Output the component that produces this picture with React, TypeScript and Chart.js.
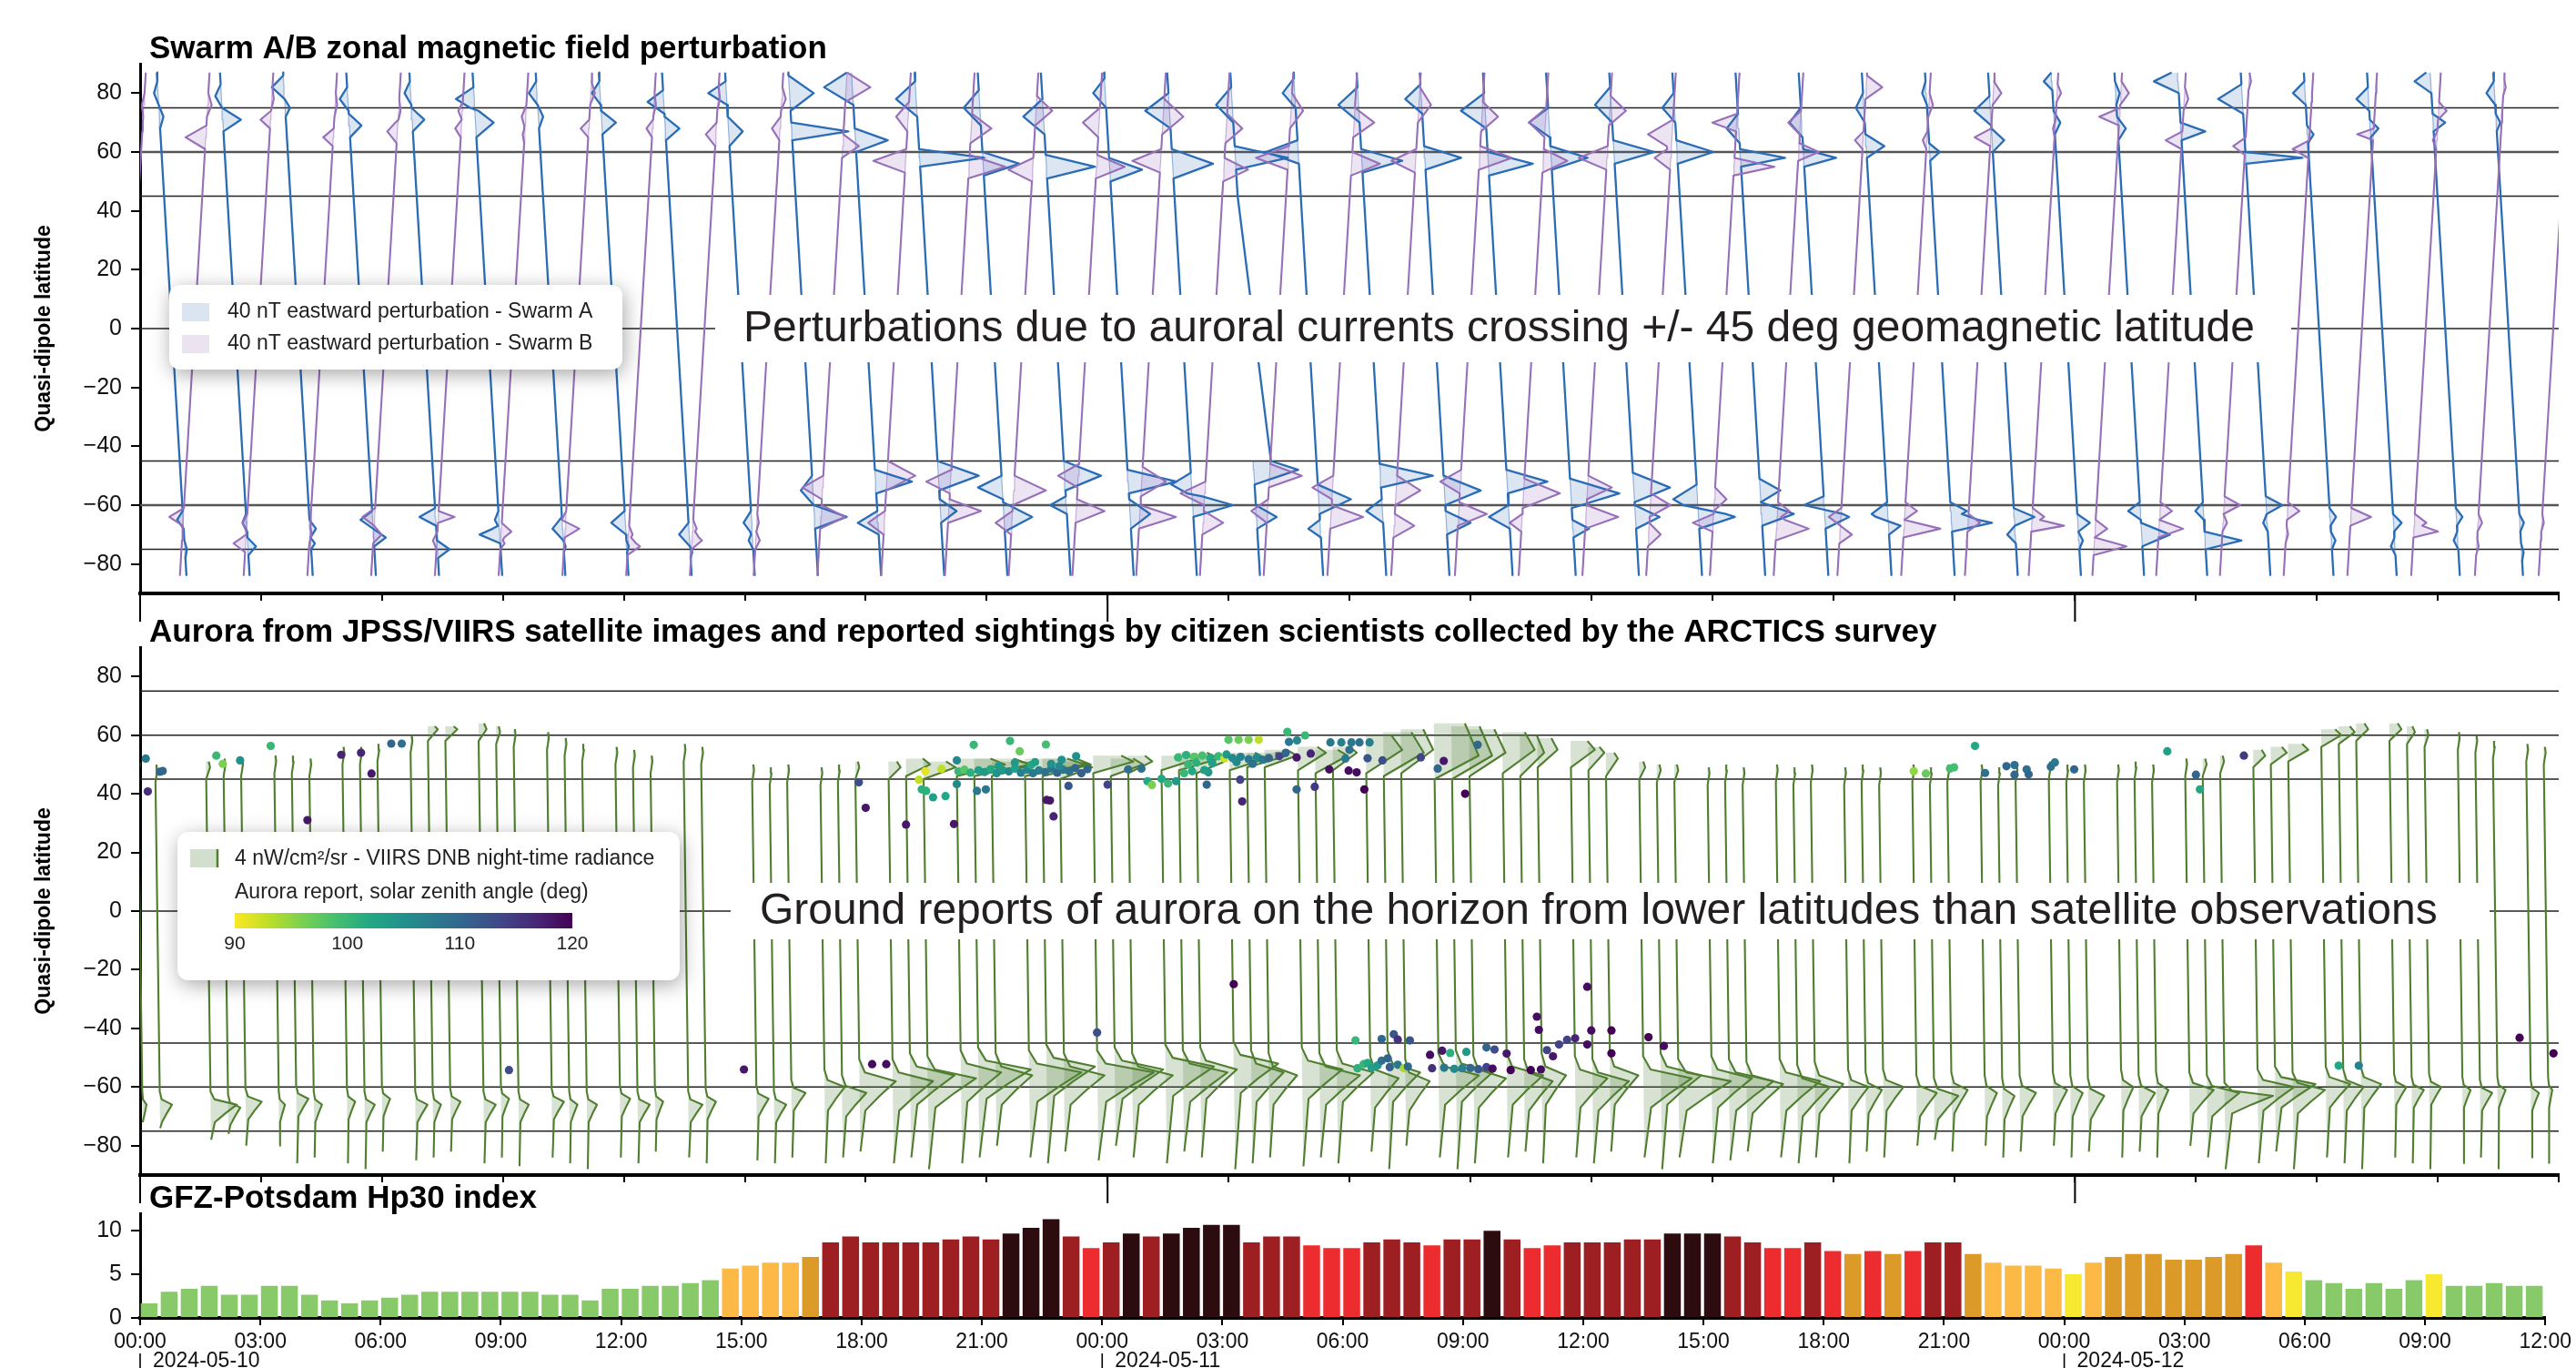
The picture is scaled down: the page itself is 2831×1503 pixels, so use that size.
import React, { useEffect, useRef } from 'react';
import { Chart, registerables } from 'chart.js';
Chart.register(...registerables);

const W = 2831;
const H = 1503;
const FONT = '"Liberation Sans", Arial, Helvetica, sans-serif';

// ---------------- axes / labels ----------------
const hourTicks = [0, 3, 6, 9, 12, 15, 18, 21, 24, 27, 30, 33, 36, 39, 42, 45, 48, 51, 54, 57, 60];
const dayTicks = [0, 24, 48];
const dayLabels = ['2024-05-10', '2024-05-11', '2024-05-12'];
const latTicks = [-80, -60, -40, -20, 0, 20, 40, 60, 80];
const refLats = [75, 60, 45, 0, -45, -60, -75];
const hpTicks = [0, 5, 10];
const szaTicks = [90, 100, 110, 120];

const titleSwarm = 'Swarm A/B zonal magnetic field perturbation';
const titleAurora = 'Aurora from JPSS/VIIRS satellite images and reported sightings by citizen scientists collected by the ARCTICS survey';
const titleHp = 'GFZ-Potsdam Hp30 index';
const yTitle = 'Quasi-dipole latitude';
const noteSwarm = 'Perturbations due to auroral currents crossing +/- 45 deg geomagnetic latitude';
const noteAurora = 'Ground reports of aurora on the horizon from lower latitudes than satellite observations';
const legSwarmA = '40 nT eastward perturbation - Swarm A';
const legSwarmB = '40 nT eastward perturbation - Swarm B';
const legViirs = '4 nW/cm\u00b2/sr - VIIRS DNB night-time radiance';
const legReports = 'Aurora report, solar zenith angle (deg)';

// ---------------- Hp30 (half-hourly, from 2024-05-10 00:00) ----------------
const hp30Day1 = [1.667, 3, 3.333, 3.667, 2.667, 2.667, 3.667, 3.667, 2.667, 2, 1.667, 2, 2.333, 2.667, 3, 3, 3, 3, 3, 3, 2.667, 2.667, 2, 3.333, 3.333, 3.667, 3.667, 4, 4.333, 5.667, 6, 6.333, 6.333, 7, 8.667, 9.333, 8.667, 8.667, 8.667, 8.667, 9, 9.333, 9, 9.667, 10.333, 11.333, 9.333, 8];
const hp30Day2 = [8.667, 9.667, 9.333, 9.667, 10.333, 10.667, 10.667, 8.667, 9.333, 9.333, 8.333, 8, 8, 8.667, 9, 8.667, 8.333, 9, 9, 10, 9, 8, 8.333, 8.667, 8.667, 8.667, 9, 9, 9.667, 9.667, 9.667, 9.333, 8.667, 8, 8, 8.667, 7.667, 7.333, 7.667, 7.333, 7.667, 8.667, 8.667, 7.333, 6.333, 6, 6, 5.667];
const hp30Day3 = [5, 6.333, 7, 7.333, 7.333, 6.667, 6.667, 7, 7.333, 8.333, 6.333, 5.333, 4.333, 4, 3.333, 4, 3.333, 4.333, 5, 3.667, 3.667, 4, 3.667, 3.667];
const hp30Values = [...hp30Day1, ...hp30Day2, ...hp30Day3];

// ---------------- Swarm passes ----------------
// equator crossing time (h since 2024-05-10 00:00); bumps: [lat, offset (h), half-width (deg)]
const swarmATimes = [0.788, 2.355, 3.921, 5.488, 7.054, 8.621, 10.188, 11.754, 13.321, 14.887, 16.454, 18.021, 19.587, 21.154, 22.72, 24.287, 25.854, 27.42, 28.987, 30.553, 32.12, 33.687, 35.253, 36.82, 38.386, 39.953, 41.52, 43.086, 44.653, 46.219, 47.786, 49.353, 50.919, 52.486, 54.052, 55.619, 57.186, 58.752];
const swarmANorth = [
  [[80, -0.1, 4], [72, 0.1, 4]], [[79, -0.15, 4], [71, 0.45, 4]], [[82, -0.3, 4], [75, 0.12, 3]], [[78, -0.2, 4], [69, 0.3, 4]],
  [[80, -0.15, 4], [71, 0.3, 4]], [[78, -0.45, 4], [70, 0.45, 5]], [[80, -0.2, 4], [72, 0.12, 4]], [[80, -0.2, 4], [70, 0.35, 4]],
  [[77, -0.4, 4], [68, 0.35, 4]], [[80, -0.45, 4], [67, 0.35, 5]], [[80, 0.6, 6], [67, 1.4, 3]], [[82, -0.7, 6], [64, 0.8, 4]],
  [[78, -0.5, 6], [58, 1.6, 3]], [[75, -0.4, 6], [56, 0.9, 4]], [[72, -0.5, 6], [55, 1.2, 4]], [[80, -0.3, 5], [54, 0.8, 4]],
  [[74, -0.6, 6], [56, 1.0, 5]], [[76, -0.4, 6], [58, 1.3, 4]], [[80, -0.3, 5], [60, -0.8, 4]], [[76, -0.5, 6], [57, 1.0, 4]],
  [[78, -0.4, 5], [58, 0.9, 4]], [[74, -0.6, 6], [56, 1.1, 4]], [[70, -0.5, 5], [58, 0.9, 4]], [[76, -0.4, 6], [60, 1.0, 4]],
  [[75, -0.3, 5], [60, 0.9, 4]], [[68, -0.3, 5], [58, 1.1, 3]], [[70, -0.3, 5], [58, 0.8, 3]], [[75, -0.2, 5], [62, 0.45, 4]],
  [[80, -0.1, 4], [60, 0.25, 3]], [[74, -0.4, 5], [64, 0.3, 4]], [[84, -0.2, 3], [70, 0.15, 4]], [[80, 0.1, 4], [68, 0.2, 4]],
  [[84, -0.6, 4], [67, 0.6, 3]], [[78, -0.6, 5], [58, 1.4, 2]], [[80, -0.3, 4], [66, 0.15, 3]], [[78, -0.3, 4], [68, 0.2, 3]],
  [[84, -0.4, 4], [70, 0.3, 3]], [[80, -0.2, 4], [70, 0.1, 3]],
];
const swarmASouth = [
  [[-65, -0.15, 3], [-75, 0.05, 3]], [[-66, -0.1, 3], [-74, 0.2, 3]], [[-68, 0.15, 3], [-73, 0.1, 2]], [[-65, -0.3, 3], [-71, 0.3, 3]],
  [[-64, -0.4, 3], [-75, 0.3, 3]], [[-65, -0.1, 3], [-70, -0.5, 3]], [[-68, -0.25, 4], [-74, 0.05, 2]], [[-66, -0.35, 4], [-74, 0.05, 2]],
  [[-70, -0.25, 4], [-76, 0.05, 2]], [[-66, -0.2, 4], [-72, -0.1, 3]], [[-55, -0.3, 5], [-64, 0.8, 4]], [[-52, 0.9, 4], [-66, -0.5, 4]],
  [[-50, 1.0, 5], [-62, 0.4, 4]], [[-54, -0.6, 4], [-64, 0.7, 5]], [[-50, 0.9, 5], [-60, -0.4, 3]], [[-52, 1.2, 4], [-63, 0.5, 5]],
  [[-53, -0.5, 4], [-60, 1.0, 4]], [[-48, 1.1, 5], [-64, 0.5, 4]], [[-58, 0.8, 5], [-68, -0.3, 3]], [[-50, 1.3, 4], [-62, -0.4, 4]],
  [[-55, 0.9, 5], [-66, 0.6, 4]], [[-52, 1.0, 4], [-64, -0.5, 4]], [[-56, 1.2, 5], [-68, 0.4, 3]], [[-54, 0.9, 5], [-64, 0.6, 4]],
  [[-58, -0.6, 5], [-64, 0.9, 4]], [[-55, 0.5, 4], [-63, 0.8, 4]], [[-60, -0.5, 3], [-64, 0.6, 4]], [[-63, -0.4, 4], [-67, 0.3, 3]],
  [[-62, 0.4, 3], [-66, 1.0, 3]], [[-64, 0.5, 3], [-70, -0.2, 3]], [[-66, 0.3, 3], [-72, 0.1, 3]], [[-62, -0.3, 3], [-70, 0.7, 4]],
  [[-62, -0.2, 3], [-72, 0.9, 3]], [[-60, 0.4, 3], [-66, -0.1, 3]], [[-64, 0.15, 3], [-72, 0.1, 3]], [[-66, 0.2, 3], [-74, -0.1, 3]],
  [[-64, 0.15, 3], [-72, -0.1, 3]], [[-66, 0.1, 3], [-76, 0.05, 3]],
];
const swarmBTimes = [-0.234, 1.348, 2.93, 4.511, 6.093, 7.674, 9.256, 10.837, 12.419, 14.0, 15.582, 17.163, 18.745, 20.326, 21.908, 23.489, 25.071, 26.652, 28.234, 29.815, 31.397, 32.978, 34.56, 36.141, 37.723, 39.304, 40.886, 42.467, 44.049, 45.63, 47.212, 48.793, 50.375, 51.956, 53.538, 55.119, 56.701, 58.282, 59.864];
const swarmBNorth = [
  [[76, -0.05, 4], [70, 0, 3]], [[76, 0.1, 4], [65, -0.5, 4]], [[78, 0.05, 4], [71, -0.25, 3]], [[76, 0.05, 4], [65, -0.25, 3]],
  [[74, 0.05, 4], [67, -0.25, 4]], [[74, -0.1, 3], [68, -0.15, 3]], [[72, -0.1, 4], [66, -0.05, 3]], [[80, 0.1, 4], [68, -0.2, 3]],
  [[76, 0.05, 4], [68, -0.15, 3]], [[78, 0.05, 4], [66, -0.25, 4]], [[78, 0.1, 4], [68, -0.2, 4]], [[82, 0.6, 5], [62, 0.4, 4]],
  [[72, -0.3, 5], [57, -0.8, 4]], [[68, 0.5, 5], [55, 0.9, 4]], [[74, 0.4, 5], [54, -0.6, 4]], [[70, -0.4, 5], [55, 0.7, 4]],
  [[72, 0.5, 6], [57, -0.7, 4]], [[68, 0.4, 5], [54, 0.6, 4]], [[74, 0.3, 6], [58, -0.8, 4]], [[70, 0.5, 5], [56, 0.7, 4]],
  [[76, 0.3, 6], [57, -0.6, 4]], [[72, 0.4, 5], [58, 0.8, 4]], [[70, -0.4, 5], [57, 0.6, 4]], [[74, 0.4, 5], [58, -0.7, 4]],
  [[66, -0.6, 5], [58, -0.4, 4]], [[70, -0.6, 3], [55, 1.0, 3]], [[70, -0.3, 4], [60, 0.5, 3]], [[82, 0.4, 4], [64, -0.2, 3]],
  [[76, 0.1, 4], [64, -0.1, 3]], [[80, 0.2, 4], [65, -0.4, 3]], [[80, 0.1, 3], [68, -0.05, 3]], [[80, 0.2, 4], [72, -0.5, 3]],
  [[78, 0.1, 4], [64, -0.4, 3]], [[84, 0.05, 3], [62, -0.3, 3]], [[80, 0, 3], [61, -0.4, 3]], [[80, 0, 3], [66, -0.4, 2]],
  [[74, 0.2, 3], [64, -0.1, 3]], [[82, 0.05, 3], [70, 0, 3]], [[80, 0, 3], [70, 0, 3]],
];
const swarmBSouth = [
  [[-66, 0, 3], [-72, 0, 3]], [[-64, -0.35, 3], [-72, 0, 3]], [[-66, -0.1, 3], [-73, -0.3, 3]], [[-66, 0, 3], [-70, 0.05, 3]],
  [[-64, -0.3, 3], [-70, 0.2, 3]], [[-64, 0.4, 2], [-72, -0.1, 3]], [[-69, 0.25, 3], [-73, 0.1, 2]], [[-65, -0.1, 3], [-68, 0.35, 3]],
  [[-70, 0.1, 3], [-74, 0.3, 3]], [[-68, 0.1, 3], [-72, 0.25, 3]], [[-66, 0.05, 3], [-72, 0.1, 3]], [[-54, -0.5, 4], [-64, 0.6, 4]],
  [[-50, 0.7, 5], [-66, -0.4, 4]], [[-52, -0.6, 4], [-62, 0.8, 4]], [[-55, 0.8, 5], [-66, -0.4, 4]], [[-50, -0.5, 4], [-62, 0.7, 4]],
  [[-52, 0.6, 5], [-64, 0.9, 4]], [[-56, -0.6, 4], [-66, 0.5, 4]], [[-50, 0.8, 4], [-62, -0.4, 4]], [[-54, -0.5, 4], [-64, 0.8, 4]],
  [[-55, 0.6, 5], [-67, 0.5, 4]], [[-52, -0.5, 4], [-63, 0.7, 4]], [[-56, 0.9, 5], [-66, -0.3, 3]], [[-54, 0.6, 4], [-64, 0.8, 4]],
  [[-60, 0.5, 4], [-70, 0.3, 4]], [[-58, 0.3, 4], [-66, -0.5, 3]], [[-62, 0.3, 3], [-68, 0.8, 4]], [[-64, -0.3, 3], [-70, 0.3, 3]],
  [[-62, 0.3, 3], [-68, 0.9, 3]], [[-66, 0.3, 3], [-72, 0, 3]], [[-64, 0.3, 3], [-67, 0.8, 2]], [[-68, 0.3, 3], [-74, 0.8, 3]],
  [[-62, 0.3, 3], [-68, 0.6, 3]], [[-60, 0.4, 3], [-66, 0.1, 3]], [[-62, 0.3, 3], [-70, 0.05, 3]], [[-64, 0.5, 3], [-70, 0, 3]],
  [[-66, 0.3, 3], [-69, 0.6, 2]], [[-66, 0.1, 3], [-74, 0.05, 3]], [[-66, 0.05, 3], [-72, 0, 3]],
];

// ---------------- JPSS / VIIRS passes ----------------
const viirsTimes = [
  0.011, 0.445, 1.704, 2.138, 2.572, 3.397, 3.831, 4.265, 5.09, 5.524, 5.958, 6.783, 7.217, 7.651, 8.476, 8.91, 9.344,
  10.169, 10.603, 11.037, 11.862, 12.296, 12.73, 13.555, 13.989, 15.248, 15.682, 16.116, 16.941, 17.375, 17.809,
  18.634, 19.068, 19.502, 20.327, 20.761, 21.195, 22.02, 22.454, 22.888, 23.713, 24.147, 24.581, 25.406, 25.84, 26.274,
  27.099, 27.533, 27.967, 28.792, 29.226, 29.66, 30.485, 30.919, 31.353, 32.178, 32.612, 33.046, 33.871, 34.305, 34.739,
  35.564, 35.998, 36.432, 37.257, 37.691, 38.125, 38.95, 39.384, 39.818, 40.643, 41.077, 41.511, 42.336, 42.77, 43.204,
  44.029, 44.463, 44.897, 45.722, 46.156, 46.59, 47.415, 47.849, 48.283, 49.108, 49.542, 49.976, 50.801, 51.235, 51.669,
  52.494, 52.928, 53.362, 54.187, 54.621, 55.055, 55.88, 56.314, 56.748, 57.573, 58.007, 58.441, 59.266, 59.7,
];
// [top lat, hook lat, hook offset (h), hook width (deg)]
const viirsNorth = [
  [51, 50, 0.05, 2], [50, 48, 0.05, 2], [51, 49, 0.1, 2], [52, 50, 0.05, 2], [52, 50, 0.05, 2], [53, 51, 0.05, 2], [53, 51, 0.05, 2], [52, 50, 0.05, 2],
  [56, 54, 0.05, 2], [56, 54, 0.05, 2], [57, 55, 0.05, 2], [60, 58, 0.05, 2], [63, 62, 0.25, 2], [63, 62, 0.3, 2], [64, 62, 0.2, 2], [63, 61, 0.1, 2],
  [62, 60, 0.05, 2], [61, 59, 0.05, 2], [59, 57, 0.05, 2], [57, 55, 0.05, 2], [56, 54, 0.05, 2], [55, 53, 0.05, 2], [53, 51, 0.05, 2], [57, 55, 0.05, 2],
  [56, 54, 0.05, 2], [50, 48, 0.05, 2], [49, 47, 0.05, 2], [50, 48, 0.05, 2], [49, 47, 0.05, 2], [50, 48, 0.05, 2], [51, 49, 0.1, 2],
  [51, 49, 0.3, 2], [52, 50, 0.6, 2], [51, 49, 0.8, 2], [52, 50, 1.2, 2], [52, 50, 1.4, 2], [51, 50, 1.0, 2], [52, 50, 1.5, 2], [52, 50, 1.2, 2],
  [51, 49, 0.8, 2], [53, 51, 1.0, 2], [52, 50, 0.8, 2], [53, 51, 0.6, 2], [53, 52, 0.9, 2], [54, 52, 1.0, 2], [53, 51, 0.7, 2],
  [54, 52, 0.9, 2], [54, 53, 1.0, 2], [55, 53, 0.8, 2], [56, 54, 0.7, 3], [55, 53, 0.8, 3], [56, 54, 0.6, 3], [60, 55, 0.9, 4], [61, 54, 1.0, 4],
  [62, 55, 0.8, 4], [64, 53, 1.1, 4], [63, 53, 1.0, 4], [62, 54, 0.9, 4], [61, 55, 0.8, 4], [60, 54, 0.6, 4], [59, 55, 0.5, 3],
  [58, 55, 0.6, 3], [56, 54, 0.4, 3], [54, 52, 0.3, 3], [51, 49, 0.15, 2], [50, 48, 0.1, 2], [50, 48, 0.1, 2], [49, 47, 0.05, 2], [50, 48, 0.05, 2],
  [49, 47, 0.05, 2], [50, 48, 0.05, 2], [49, 47, 0.05, 2], [50, 48, 0.05, 2], [49, 47, 0.05, 2], [50, 48, 0.05, 2], [49, 47, 0.05, 2],
  [50, 48, 0.05, 2], [49, 47, 0.05, 2], [50, 48, 0.05, 2], [50, 48, 0.05, 2], [49, 47, 0.05, 2], [50, 48, 0.05, 2], [51, 49, 0.05, 2],
  [50, 48, 0.05, 2], [50, 48, 0.05, 2], [50, 48, 0.05, 2], [51, 49, 0.05, 2], [50, 48, 0.05, 2], [52, 50, 0.05, 2], [52, 50, 0.1, 2],
  [53, 51, 0.1, 2], [55, 53, 0.3, 2], [56, 54, 0.4, 2], [57, 55, 0.5, 2], [62, 60, 0.5, 2], [63, 61, 0.4, 2], [64, 62, 0.3, 2],
  [64, 62, 0.3, 2], [63, 61, 0.2, 2], [62, 60, 0.1, 2], [61, 59, 0.05, 2], [60, 58, 0.05, 2], [58, 56, 0.05, 2], [57, 55, 0.05, 2], [56, 54, 0.05, 2],
];
// [bulge lat, bulge offset (h), bulge width (deg), bottom lat]
const viirsSouth = [
  [-66, 0.1, 3, -72], [-66, 0.3, 3, -74], [-66, 0.65, 3, -78], [-67, 0.3, 3, -76], [-65, 0.4, 3, -80], [-66, 0.15, 3, -80], [-64, 0.3, 3, -86], [-66, 0.2, 3, -84],
  [-65, 0.2, 3, -86], [-66, 0.25, 3, -88], [-64, 0.2, 3, -82], [-66, 0.3, 3, -85], [-66, 0.2, 3, -84], [-65, 0.25, 3, -82], [-66, 0.3, 3, -86], [-64, 0.2, 3, -84],
  [-66, 0.25, 3, -87], [-65, 0.3, 3, -84], [-66, 0.2, 3, -86], [-66, 0.25, 3, -88], [-64, 0.25, 3, -84], [-66, 0.3, 3, -86], [-65, 0.2, 3, -82], [-66, 0.35, 3, -84],
  [-65, 0.25, 3, -86], [-64, 0.3, 3, -85], [-66, 0.3, 3, -86], [-62, 0.35, 3, -84], [-60, 0.5, 4, -86], [-62, 0.6, 4, -84], [-58, 0.9, 5, -82],
  [-58, 1.0, 5, -86], [-56, 1.1, 5, -84], [-57, 1.2, 5, -88], [-55, 1.0, 5, -86], [-54, 1.3, 5, -84], [-56, 0.9, 5, -80], [-55, 1.3, 5, -84], [-53, 1.2, 5, -86],
  [-56, 1.0, 5, -82], [-55, 1.4, 5, -85], [-54, 1.2, 5, -80], [-56, 1.0, 5, -84], [-53, 1.2, 5, -86], [-55, 1.1, 5, -82], [-54, 0.9, 5, -84],
  [-52, 1.1, 5, -88], [-55, 0.8, 5, -86], [-56, 0.7, 5, -84], [-54, 1.0, 5, -87], [-56, 1.0, 5, -84], [-55, 0.9, 5, -86], [-57, 0.7, 5, -82], [-55, 0.8, 5, -88],
  [-58, 0.6, 5, -80], [-56, 1.0, 5, -84], [-55, 0.9, 5, -88], [-57, 0.8, 5, -86], [-56, 0.9, 5, -84], [-58, 0.7, 5, -82], [-56, 0.6, 5, -86],
  [-57, 0.8, 5, -84], [-58, 0.9, 5, -86], [-56, 0.7, 5, -82], [-57, 1.2, 5, -84], [-56, 1.0, 5, -88], [-58, 1.3, 5, -84], [-57, 1.0, 5, -86], [-58, 1.1, 5, -85],
  [-59, 0.9, 5, -82], [-58, 1.0, 5, -84], [-60, 0.8, 5, -86], [-59, 0.7, 5, -84], [-60, 0.5, 4, -86], [-61, 0.4, 4, -82], [-60, 0.5, 4, -84],
  [-62, 0.5, 4, -80], [-63, 0.6, 4, -78], [-61, 0.4, 4, -82], [-62, 0.3, 4, -80], [-63, 0.3, 4, -84], [-62, 0.4, 4, -82], [-61, 0.35, 4, -80],
  [-62, 0.3, 4, -84], [-63, 0.4, 4, -82], [-60, 0.3, 4, -84], [-62, 0.4, 4, -82], [-61, 0.3, 4, -84], [-61, 0.6, 4, -80], [-62, 0.8, 4, -84],
  [-63, 1.2, 3, -88], [-60, 0.9, 4, -86], [-59, 1.0, 4, -82], [-61, 0.8, 4, -88], [-59, 0.6, 4, -84], [-60, 0.5, 4, -86], [-59, 0.5, 4, -88],
  [-60, 0.3, 3, -84], [-61, 0.3, 3, -86], [-60, 0.3, 3, -88], [-61, 0.2, 3, -86], [-62, 0.3, 3, -84], [-61, 0.2, 3, -88], [-62, 0.2, 3, -84], [-61, 0.1, 3, -86],
];

// ---------------- ARCTICS aurora reports: [time (h), QD lat, solar zenith angle] ----------------
const reportsNorth = [
  [0.14, 52.0, 108], [0.19, 40.8, 116], [0.49, 47.5, 110], [0.56, 47.8, 110], [1.89, 53.0, 100], [2.05, 50.2, 96], [2.48, 51.4, 105],
  [3.24, 56.3, 100], [4.15, 31.0, 118], [4.99, 53.3, 117], [5.48, 54.0, 117], [5.74, 46.9, 118], [6.23, 57.1, 110], [6.49, 57.1, 109],
  [17.83, 43.9, 113], [18.0, 35.2, 118], [19.0, 29.5, 118], [19.32, 44.8, 93], [19.48, 47.7, 91], [19.39, 41.5, 101], [19.5, 41.0, 101],
  [19.67, 38.8, 103], [19.88, 48.5, 93], [20.19, 29.7, 118], [19.98, 39.2, 102], [20.26, 51.4, 106], [20.26, 43.3, 106], [20.68, 56.7, 100],
  [20.76, 41.0, 108], [20.98, 41.5, 108], [21.58, 58.0, 100], [21.82, 54.5, 97], [22.47, 56.8, 99], [22.49, 37.9, 118], [22.57, 37.7, 118],
  [22.66, 32.3, 117], [23.03, 42.7, 112], [22.86, 51.6, 105], [23.22, 52.8, 105], [24.0, 43.1, 114], [24.51, 48.3, 109], [24.84, 48.6, 109],
  [24.99, 44.3, 102], [25.1, 43.0, 96], [25.34, 45.1, 102], [25.5, 43.5, 100], [25.7, 44.3, 104], [25.9, 47.0, 100], [26.46, 43.1, 110],
  [26.5, 47.3, 104], [27.0, 58.4, 98], [27.25, 58.4, 97], [27.5, 58.4, 96], [27.75, 58.4, 93], [27.29, 44.8, 114], [27.34, 37.4, 117],
  [28.26, 52.8, 114], [28.42, 54.0, 110], [28.46, 61.1, 100], [28.5, 57.7, 108], [28.7, 58.2, 106], [28.9, 59.9, 100], [28.69, 52.4, 118],
  [28.69, 41.5, 110], [29.04, 53.7, 117], [29.14, 42.4, 115], [29.5, 48.3, 119], [29.53, 57.5, 108], [29.8, 57.5, 107], [30.05, 57.5, 108],
  [30.25, 57.5, 109], [30.5, 57.5, 107], [29.9, 52.0, 108], [30.0, 55.0, 109], [29.98, 47.9, 119], [30.18, 47.3, 119], [30.37, 41.5, 120],
  [30.45, 52.1, 112], [30.82, 51.4, 113], [31.77, 52.4, 114], [32.19, 48.6, 110], [32.34, 51.2, 118], [32.87, 40.0, 120], [33.18, 56.7, 110],
  [20.3, 47.6, 100], [20.45, 48.2, 98], [20.6, 47.2, 101], [20.8, 48.0, 103], [20.95, 47.4, 104], [21.1, 48.4, 102], [21.25, 47.0, 105],
  [21.4, 48.0, 104], [21.55, 47.6, 106], [21.7, 48.6, 103], [21.85, 47.2, 107], [22.0, 48.2, 106], [22.15, 47.0, 108], [22.3, 48.0, 107],
  [22.45, 47.4, 109], [22.6, 48.6, 108], [22.75, 47.2, 110], [22.9, 48.2, 108], [23.05, 47.6, 109], [23.2, 48.8, 110], [23.35, 47.0, 111],
  [23.5, 48.4, 110], [21.3, 49.5, 104], [22.1, 49.8, 102], [22.8, 49.4, 106], [21.7, 50.6, 104], [22.2, 50.8, 103], [22.6, 50.2, 105],
  [25.75, 52.4, 100], [25.95, 53.2, 101], [26.15, 52.6, 98], [26.35, 53.0, 99], [26.55, 52.2, 102], [26.75, 52.8, 100], [26.9, 52.0, 92],
  [26.95, 53.4, 104], [27.1, 52.2, 106], [27.3, 52.6, 107], [27.5, 51.8, 108], [27.7, 52.4, 106], [27.85, 51.6, 108], [28.0, 52.2, 110],
  [26.2, 50.6, 101], [26.6, 50.4, 103], [26.0, 50.0, 100], [27.2, 50.8, 106], [27.6, 50.2, 109], [26.1, 47.7, 102], [26.4, 48.1, 103],
  [44.0, 47.7, 95], [44.3, 46.9, 97], [44.9, 48.6, 99], [45.0, 49.0, 99], [45.52, 56.3, 102], [45.77, 47.1, 109], [46.3, 49.4, 110],
  [46.5, 49.8, 109], [46.5, 46.5, 110], [46.8, 48.3, 109], [46.85, 46.6, 110], [47.4, 49.2, 109], [47.5, 50.7, 108], [47.98, 48.3, 110],
  [50.29, 54.5, 103], [51.0, 46.5, 110], [51.1, 41.5, 102], [52.19, 53.0, 115],
];
const reportsSouth = [
  [9.15, -54.2, 113], [14.98, -54.0, 118], [18.16, -52.2, 119], [18.51, -52.2, 119],
  [27.13, -24.9, 120], [23.74, -41.4, 113], [30.15, -44.1, 100], [30.8, -43.6, 110], [31.1, -42.0, 112], [31.2, -43.8, 116], [31.5, -44.1, 112],
  [30.2, -53.6, 101], [30.35, -52.2, 100], [30.45, -51.8, 102], [30.55, -53.4, 103], [30.7, -52.6, 104], [30.8, -51.0, 109], [30.95, -50.2, 110],
  [31.0, -53.2, 111], [31.2, -52.4, 108], [31.35, -53.6, 94], [31.45, -53.0, 110], [32.0, -49.0, 119], [32.3, -47.6, 118], [32.5, -48.4, 101],
  [32.9, -48.0, 104], [33.4, -46.5, 110], [33.6, -47.2, 113], [33.9, -48.6, 118], [32.05, -53.6, 116], [32.35, -53.4, 108], [32.6, -53.8, 106],
  [32.8, -53.6, 107], [33.0, -53.5, 110], [33.2, -53.9, 112], [33.4, -53.2, 114], [33.55, -53.7, 119], [34.0, -54.2, 120], [34.5, -54.2, 120],
  [34.75, -54.0, 119], [34.65, -36.0, 119], [34.7, -40.5, 119], [34.9, -47.4, 114], [35.2, -45.5, 114], [35.05, -49.5, 118], [35.4, -43.9, 114],
  [35.6, -43.4, 117], [35.9, -25.8, 119], [36.0, -40.7, 119], [35.9, -45.5, 119], [36.5, -40.7, 120], [36.5, -48.5, 120], [37.42, -43.0, 120],
  [37.8, -46.0, 119], [54.54, -52.7, 102], [55.04, -52.7, 107], [59.03, -43.2, 120], [59.87, -48.5, 120],
];

// ---------------- styling ----------------
const SWARM_RATE = 0.0043; // hours along orbit per degree of latitude
const VIIRS_SLANT = 0.001;
const colA = '#2a6cb6';
const colB = '#9670b9';
const fillA = 'rgba(40,100,180,0.16)';
const fillB = 'rgba(140,90,180,0.16)';
const edgeA = 'rgba(40,100,180,0.45)';
const edgeB = 'rgba(140,90,180,0.45)';
const colV = '#4e7e2e';
const fillV = 'rgba(95,140,75,0.25)';
const VIRIDIS = ['#440154', '#482475', '#414487', '#355f8d', '#2a788e', '#21918c', '#22a884', '#44bf70', '#7ad151', '#bddf26', '#fde725'];

function hexRgb(h: string) {
  return [parseInt(h.slice(1, 3), 16), parseInt(h.slice(3, 5), 16), parseInt(h.slice(5, 7), 16)];
}
function viridis(f: number) {
  const c = Math.max(0, Math.min(1, f)) * 10;
  const i = Math.min(9, Math.floor(c));
  const r = c - i;
  const a = hexRgb(VIRIDIS[i]);
  const b = hexRgb(VIRIDIS[i + 1]);
  return `rgb(${a.map((v, k) => Math.round(v + (b[k] - v) * r)).join(',')})`;
}
const szaColor = (s: number) => viridis(1 - (s - 90) / 30);

function hpColor(v: number) {
  if (v < 4.9) return '#88c96a';
  if (v < 5.5) return '#f7e932';
  if (v < 6.5) return '#fdb945';
  if (v < 7.5) return '#dc9b28';
  if (v < 8.5) return '#ec2c2e';
  if (v < 9.5) return '#9e1f22';
  return '#2c0c0e';
}
const hourLabel = (v: number) => `${String(v % 24).padStart(2, '0')}:00`;
const numLabel = (v: number) => (v < 0 ? '\u2212' + Math.abs(v) : String(v));

function bumpSum(bumps: number[][], lat: number) {
  let d = 0;
  for (const [L, D, w] of bumps) {
    const f = 1 - Math.abs(lat - L) / w;
    if (f > 0) d += D * f;
  }
  return d;
}

function keyLats(bumps: number[][], lo: number, hi: number) {
  const s = new Set<number>([lo, hi]);
  for (const [L, , w] of bumps) for (const v of [L + w, L, L - w]) if (v > lo && v < hi) s.add(v);
  return [...s].sort((a, b) => b - a);
}

type Pt = { x: number; y: number };

function lineDs(data: Pt[], color: string, width: number, order: number) {
  return { data, showLine: true, borderColor: color, borderWidth: width, pointRadius: 0, fill: false, order, borderJoinStyle: 'round' };
}
function shapeDs(data: Pt[], bg: string, edge: string, edgeW: number, order: number) {
  return { data, showLine: true, borderColor: edge, borderWidth: edgeW, backgroundColor: bg, pointRadius: 0, fill: 'shape', order };
}
function refDatasets(heavy: boolean) {
  return refLats.map((L) =>
    lineDs([{ x: 0, y: L }, { x: 60, y: L }], heavy && Math.abs(L) === 60 ? '#555' : '#222', heavy && Math.abs(L) === 60 ? 2.4 : 1.5, 100)
  );
}

function swarmDatasets(times: number[], north: number[][][], south: number[][][], dir: number, col: string, fill: string, edge: string, width: number) {
  const out: any[] = [];
  const n = Math.min(times.length, north.length, south.length);
  for (let i = 0; i < n; i++) {
    const t = times[i];
    const base = (lat: number) => t + dir * SWARM_RATE * lat;
    const nL = keyLats(north[i], 45, 87);
    const sL = keyLats(south[i], -84, -45);
    const nP = nL.map((lat) => ({ x: base(lat) + bumpSum(north[i], lat), y: lat }));
    const sP = sL.map((lat) => ({ x: base(lat) + bumpSum(south[i], lat), y: lat }));
    const nB = nL.map((lat) => ({ x: base(lat), y: lat }));
    const sB = sL.map((lat) => ({ x: base(lat), y: lat }));
    out.push(shapeDs([...nP, ...nB.slice().reverse()], fill, edge, 1.2, 50));
    out.push(shapeDs([...sP, ...sB.slice().reverse()], fill, edge, 1.2, 50));
    const trace = dir < 0 ? [...nP, ...sP] : [...nP, ...sP].reverse();
    out.push(lineDs(trace, col, width, 10));
  }
  return out;
}

function viirsDatasets() {
  const out: any[] = [];
  const n = Math.min(viirsTimes.length, viirsNorth.length, viirsSouth.length);
  for (let i = 0; i < n; i++) {
    const t = viirsTimes[i];
    const [top, nLat, nDx, nW] = viirsNorth[i];
    const [sLat, sDx, sW, bottom] = viirsSouth[i];
    const base = (lat: number) => t + VIIRS_SLANT * (-20 - lat);
    const southKeys = [
      [sLat - 2 * sW, 0.15], [sLat - sW, 0.55], [sLat, 1], [sLat + 0.6 * sW, 0.15], [sLat + 1.5 * sW, 0],
    ].filter(([lat]) => lat > bottom);
    const sPts: Pt[] = [{ x: base(bottom), y: bottom }, ...southKeys.map(([lat, f]) => ({ x: base(lat) + f * sDx, y: lat }))];
    const nPts: Pt[] = [
      { x: base(nLat - 2 * nW), y: nLat - 2 * nW },
      { x: base(nLat) + nDx, y: nLat },
      { x: base(top) + 0.7 * nDx, y: top },
    ];
    const sBase = sPts.map((p) => ({ x: base(p.y), y: p.y })).reverse();
    const nBase = nPts.map((p) => ({ x: base(p.y), y: p.y })).reverse();
    out.push(shapeDs([...sPts, ...sBase], fillV, 'rgba(0,0,0,0)', 0, 50));
    out.push(shapeDs([...nPts, ...nBase], fillV, 'rgba(0,0,0,0)', 0, 50));
    out.push(lineDs([...sPts, ...nPts], colV, 2.1, 10));
  }
  return out;
}

// ---------------- drawing helpers ----------------
function roundRect(ctx: CanvasRenderingContext2D, x: number, y: number, w: number, h: number, r: number) {
  ctx.beginPath();
  ctx.moveTo(x + r, y);
  ctx.arcTo(x + w, y, x + w, y + h, r);
  ctx.arcTo(x + w, y + h, x, y + h, r);
  ctx.arcTo(x, y + h, x, y, r);
  ctx.arcTo(x, y, x + w, y, r);
  ctx.closePath();
}
function shadowBox(ctx: CanvasRenderingContext2D, x: number, y: number, w: number, h: number) {
  ctx.save();
  ctx.shadowColor = 'rgba(0,0,0,0.35)';
  ctx.shadowBlur = 22;
  ctx.shadowOffsetX = 2;
  ctx.shadowOffsetY = 5;
  roundRect(ctx, x, y, w, h, 12);
  ctx.fillStyle = '#fff';
  ctx.fill();
  ctx.restore();
}

type Decor = {
  id: string;
  title: string;
  yTitle?: string;
  note?: { text: string; x0: number; x1: number; tx: number; half: number };
  legend?: 'swarm' | 'viirs';
  dayMode: 'ticks' | 'labels';
};

function decorPlugin(d: Decor) {
  return {
    id: d.id,
    afterDatasetsDraw(chart: any) {
      if (!d.note) return;
      const { ctx } = chart;
      const y0 = chart.scales.y.getPixelForValue(0);
      ctx.save();
      ctx.fillStyle = '#fff';
      ctx.fillRect(d.note.x0, y0 - d.note.half, d.note.x1 - d.note.x0, d.note.half * 2);
      ctx.font = `48px ${FONT}`;
      ctx.fillStyle = '#231f20';
      ctx.textBaseline = 'middle';
      ctx.textAlign = 'left';
      ctx.fillText(d.note.text, d.note.tx, y0 + 1);
      ctx.restore();
    },
    afterDraw(chart: any) {
      const { ctx, chartArea } = chart;
      const xs = chart.scales.x;
      ctx.save();
      // title
      ctx.font = `bold 35px ${FONT}`;
      ctx.fillStyle = '#000';
      ctx.textAlign = 'left';
      ctx.textBaseline = 'alphabetic';
      ctx.fillText(d.title, 164, chartArea.top - 6);
      // y title
      if (d.yTitle) {
        ctx.save();
        ctx.translate(49, (chartArea.top + chartArea.bottom) / 2);
        ctx.rotate(-Math.PI / 2);
        ctx.font = `bold 23px ${FONT}`;
        ctx.textAlign = 'center';
        ctx.textBaseline = 'middle';
        ctx.fillText(d.yTitle, 0, 0);
        ctx.restore();
      }
      // day markers
      ctx.strokeStyle = '#000';
      dayTicks.forEach((v, i) => {
        const x = xs.getPixelForValue(v);
        ctx.beginPath();
        if (d.dayMode === 'ticks') {
          ctx.lineWidth = 2;
          ctx.moveTo(x, chartArea.bottom + 2);
          ctx.lineTo(x, chartArea.bottom + 31);
          ctx.stroke();
        } else {
          ctx.lineWidth = 1.6;
          ctx.moveTo(x, chartArea.bottom + 39);
          ctx.lineTo(x, chartArea.bottom + 56);
          ctx.stroke();
          ctx.font = `23px ${FONT}`;
          ctx.fillStyle = '#111';
          ctx.textAlign = 'left';
          ctx.textBaseline = 'middle';
          ctx.fillText(dayLabels[i], x + 14, chartArea.bottom + 48);
        }
      });
      // legends
      if (d.legend === 'swarm') {
        shadowBox(ctx, 186, 313, 498, 93);
        ctx.fillStyle = '#dbe5f1';
        ctx.fillRect(200, 333, 30, 20);
        ctx.fillStyle = '#ebe3f0';
        ctx.fillRect(200, 368, 30, 20);
        ctx.font = `23px ${FONT}`;
        ctx.fillStyle = '#222';
        ctx.textAlign = 'left';
        ctx.textBaseline = 'middle';
        ctx.fillText(legSwarmA, 250, 343);
        ctx.fillText(legSwarmB, 250, 378);
      }
      if (d.legend === 'viirs') {
        shadowBox(ctx, 195, 914, 552, 163);
        ctx.fillStyle = '#d3dfcd';
        ctx.fillRect(209, 933, 31, 20);
        ctx.strokeStyle = colV;
        ctx.lineWidth = 2.5;
        ctx.beginPath();
        ctx.moveTo(239, 933);
        ctx.lineTo(239, 953);
        ctx.stroke();
        ctx.font = `23px ${FONT}`;
        ctx.fillStyle = '#222';
        ctx.textAlign = 'left';
        ctx.textBaseline = 'middle';
        ctx.fillText(legViirs, 258, 944);
        ctx.fillText(legReports, 258, 981);
        const x0 = 258, x1 = 629;
        const g = ctx.createLinearGradient(x0, 0, x1, 0);
        for (let k = 0; k <= 20; k++) g.addColorStop(k / 20, viridis(1 - k / 20));
        ctx.fillStyle = g;
        ctx.fillRect(x0, 1003, x1 - x0, 17);
        ctx.font = `21px ${FONT}`;
        ctx.fillStyle = '#222';
        ctx.textAlign = 'center';
        szaTicks.forEach((s) => ctx.fillText(String(s), x0 + ((s - 90) / 30) * (x1 - x0), 1037));
      }
      ctx.restore();
    },
  };
}

// ---------------- scales ----------------
function xScale(labels: boolean, height: number) {
  return {
    type: 'linear',
    min: 0,
    max: 60,
    offset: false,
    afterBuildTicks: (s: any) => {
      s.ticks = hourTicks.map((v) => ({ value: v }));
    },
    afterFit: (s: any) => {
      s.height = height;
    },
    ticks: {
      display: labels,
      autoSkip: false,
      maxRotation: 0,
      padding: 5,
      color: '#111',
      font: { family: FONT, size: 23 },
      callback: (v: number) => hourLabel(v),
    },
    grid: { drawOnChartArea: false, drawTicks: true, tickLength: 8, color: '#000', lineWidth: 2, offset: false },
    border: { display: true, color: '#000', width: 4 },
  };
}
function yScale(min: number, max: number, ticks: number[]) {
  return {
    type: 'linear',
    min,
    max,
    afterBuildTicks: (s: any) => {
      s.ticks = ticks.map((v) => ({ value: v }));
    },
    afterFit: (s: any) => {
      s.width = 154;
    },
    ticks: { color: '#111', padding: 10, font: { family: FONT, size: 25 }, callback: (v: number) => numLabel(v) },
    grid: { drawOnChartArea: false, drawTicks: true, tickLength: 10, color: '#000', lineWidth: 2 },
    border: { display: true, color: '#000', width: 3 },
  };
}
const basePlugins = { legend: { display: false }, tooltip: { enabled: false }, title: { display: false } };

function swarmConfig(): any {
  const datasets = [
    ...refDatasets(true),
    ...swarmDatasets(swarmBTimes, swarmBNorth, swarmBSouth, 1, colB, fillB, edgeB, 2.1),
    ...swarmDatasets(swarmATimes, swarmANorth, swarmASouth, -1, colA, fillA, edgeA, 2.3),
  ];
  return {
    type: 'scatter',
    data: { datasets },
    options: {
      responsive: false,
      animation: false,
      events: [],
      layout: { autoPadding: false, padding: { left: 0, right: 19, top: 70, bottom: 801 } },
      plugins: basePlugins,
      scales: { x: xScale(false, 50), y: yScale(-90, 90, latTicks) },
    },
    plugins: [
      decorPlugin({
        id: 'decorSwarm',
        title: titleSwarm,
        yTitle,
        note: { text: noteSwarm, x0: 786, x1: 2518, tx: 817, half: 37 },
        legend: 'swarm',
        dayMode: 'ticks',
      }),
    ],
  };
}

function auroraConfig(): any {
  const pts = [...reportsNorth, ...reportsSouth];
  const datasets = [
    {
      data: pts.map(([t, lat]) => ({ x: t, y: lat })),
      pointRadius: 4.6,
      pointBackgroundColor: pts.map((p) => szaColor(p[2])),
      pointBorderWidth: 0,
      showLine: false,
      order: 0,
    },
    ...refDatasets(false),
    ...viirsDatasets(),
  ];
  return {
    type: 'scatter',
    data: { datasets },
    options: {
      responsive: false,
      animation: false,
      events: [],
      layout: { autoPadding: false, padding: { left: 0, right: 19, top: 711, bottom: 162 } },
      plugins: basePlugins,
      scales: { x: xScale(false, 50), y: yScale(-90, 90, latTicks) },
    },
    plugins: [
      decorPlugin({
        id: 'decorAurora',
        title: titleAurora,
        yTitle,
        note: { text: noteAurora, x0: 803, x1: 2736, tx: 835, half: 31 },
        legend: 'viirs',
        dayMode: 'ticks',
      }),
    ],
  };
}

function hpConfig(): any {
  return {
    type: 'bar',
    data: {
      datasets: [
        {
          data: hp30Values.map((v, i) => ({ x: i * 0.5 + 0.225, y: v })),
          backgroundColor: hp30Values.map(hpColor),
          borderWidth: 0,
          barPercentage: 0.84,
          categoryPercentage: 1,
        },
      ],
    },
    options: {
      responsive: false,
      animation: false,
      events: [],
      layout: { autoPadding: false, padding: { left: 0, right: 19, top: 1333, bottom: 0 } },
      plugins: basePlugins,
      scales: { x: xScale(true, 55), y: yScale(0, 12, hpTicks) },
    },
    plugins: [decorPlugin({ id: 'decorHp', title: titleHp, dayMode: 'labels' })],
  };
}

export default function App() {
  const r1 = useRef<HTMLCanvasElement>(null);
  const r2 = useRef<HTMLCanvasElement>(null);
  const r3 = useRef<HTMLCanvasElement>(null);
  useEffect(() => {
    const charts = [
      new Chart(r1.current as HTMLCanvasElement, swarmConfig()),
      new Chart(r2.current as HTMLCanvasElement, auroraConfig()),
      new Chart(r3.current as HTMLCanvasElement, hpConfig()),
    ];
    return () => charts.forEach((c) => c.destroy());
  }, []);
  const cs: React.CSSProperties = { position: 'absolute', left: 0, top: 0, width: W, height: H };
  return (
    <div style={{ position: 'absolute', left: 0, top: 0, width: W, height: H, background: '#fff', overflow: 'hidden' }}>
      <canvas ref={r1} width={W} height={H} style={cs} />
      <canvas ref={r2} width={W} height={H} style={cs} />
      <canvas ref={r3} width={W} height={H} style={cs} />
    </div>
  );
}
